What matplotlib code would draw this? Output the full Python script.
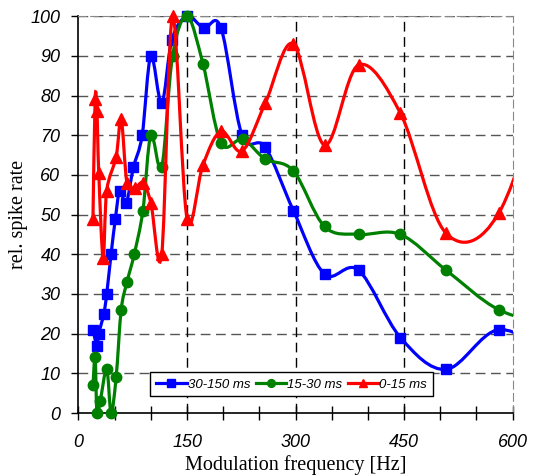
import numpy as np
import matplotlib.pyplot as plt
from matplotlib.path import Path
from matplotlib.patches import PathPatch
from matplotlib.lines import Line2D
from matplotlib.ticker import MultipleLocator

# 30-150 ms
f_blue = [20, 25.5, 28, 35, 39, 45, 51, 57, 66, 76, 88, 100, 115, 129, 150,
          173, 197, 226, 258, 297, 340, 387, 445, 508, 581, 660]
r_blue = [21, 17, 20, 25, 30, 40, 49, 56, 53, 62, 70, 90, 78, 94, 100,
          97, 97, 70, 67, 51, 35, 36, 19, 11, 21, 14]

# 15-30 ms
f_green = [20, 23, 25.5, 30, 39, 45, 52, 59, 67, 77, 89, 100, 115, 130, 150,
           172, 197, 227, 258, 297, 340, 387, 445, 508, 581, 660]
r_green = [7, 14, 0, 3, 11, 0, 9, 26, 33, 40, 51, 70, 62, 90, 100,
           88, 68, 69, 64, 61, 47, 45, 45, 36, 26, 22]

# 0-15 ms
f_red = [20, 23, 25.5, 28, 34, 39, 52, 59, 67, 78, 89, 100, 115, 130, 150,
         172, 197, 226, 258, 297, 340, 387, 445, 508, 581, 660]
r_red = [49, 79, 76, 60.5, 39, 56, 64.5, 74, 58, 56.7, 58, 53, 40, 100, 49,
         62.5, 71, 66, 78, 93, 67.5, 87.7, 75.5, 45.3, 50.4, 92]

labels = ["30-150 ms", "15-30 ms", "0-15 ms"]


def smooth_path(x, y):
    # Excel-like smoothed line: Bezier segments with Catmull-Rom control points
    p = np.column_stack([x, y]).astype(float)
    n = len(p)
    verts = [p[0]]
    codes = [Path.MOVETO]
    for i in range(n - 1):
        p0 = p[i - 1] if i > 0 else p[i]
        p3 = p[i + 2] if i + 2 < n else p[i + 1]
        c1 = p[i] + (p[i + 1] - p0) / 6
        c2 = p[i + 1] - (p3 - p[i]) / 6
        verts += [c1, c2, p[i + 1]]
        codes += [Path.CURVE4] * 3
    return Path(verts, codes)


plt.rcParams['font.family'] = ['Liberation Sans', 'DejaVu Sans']
fig = plt.figure(figsize=(5.34, 4.75), dpi=100)
ax = fig.add_axes([0.147, 0.1305, 0.813, 0.8355])

series = [(f_blue, r_blue, '#0000ff', 's', 7.5),
          (f_green, r_green, '#008000', 'o', 7.5),
          (f_red, r_red, '#ff0000', '^', 8.5)]
handles = []
for k, (fx, ry, col, mk, ms) in enumerate(series):
    z = 3 + k
    ax.add_patch(PathPatch(smooth_path(fx, ry), facecolor='none', edgecolor=col,
                           lw=2.3, zorder=z))
    fx = np.array(fx)
    ry = np.array(ry)
    m = fx <= 600
    ax.plot(fx[m], ry[m], ls='none', marker=mk, ms=ms, color=col,
            clip_on=False, zorder=z)
    handles.append(Line2D([], [], color=col, lw=2.3, marker=mk, ms=ms * 0.75))

ax.set_xlim(0, 600)
ax.set_ylim(0, 100)
ax.xaxis.set_major_locator(MultipleLocator(150))
ax.xaxis.set_minor_locator(MultipleLocator(50))
ax.yaxis.set_major_locator(MultipleLocator(10))

for v in range(10, 101, 10):
    ax.axhline(v, color='#555555', lw=1, ls=(0, (7, 4)), zorder=1)
for v in [150, 300, 450]:
    ax.axvline(v, color='black', lw=1, ls=(0, (7, 4)), zorder=1)

for s in ['top', 'right']:
    ax.spines[s].set_color('#888888')
    ax.spines[s].set_linestyle((0, (7, 4)))
ax.spines['left'].set_linewidth(1.2)
ax.spines['bottom'].set_linewidth(1.2)

ax.tick_params(axis='x', which='both', direction='inout', length=10, width=1,
               pad=10, labelsize=13)
ax.tick_params(axis='y', direction='out', length=5, width=1, pad=8,
               labelsize=13)
for t in ax.get_xticklabels() + ax.get_yticklabels():
    t.set_fontstyle('italic')

ax.set_xlabel("Modulation frequency [Hz]", family='Liberation Serif',
              fontsize=14.5, labelpad=3)
ax.set_ylabel("rel. spike rate", family='Liberation Serif', fontsize=14.5,
              labelpad=2)

leg = ax.legend(handles, labels, loc='lower left', ncol=3,
                bbox_to_anchor=(0.15, 0.025), frameon=True, fancybox=False,
                edgecolor='black', framealpha=1, borderpad=0.45,
                handlelength=2.3, handletextpad=0.1, columnspacing=0.4,
                prop={'style': 'italic', 'size': 9.5})
leg.get_frame().set_linewidth(1)
leg.set_zorder(10)

fig.savefig('out.png', dpi=100)
